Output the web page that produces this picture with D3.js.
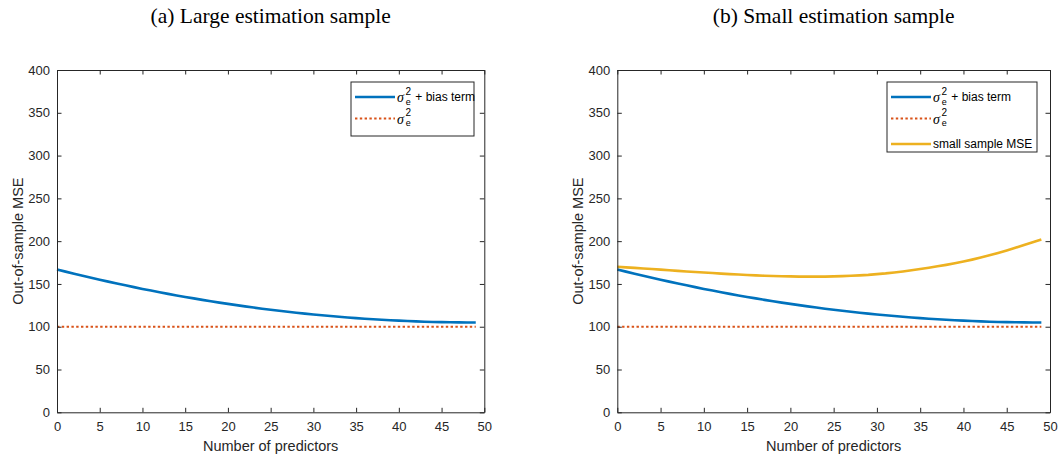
<!DOCTYPE html>
<html>
<head>
<meta charset="utf-8">
<script src="https://cdn.jsdelivr.net/npm/d3@7"></script>
<style>
  body { margin: 0; background: #fff; }
  svg { display: block; }
  .tick text { font-family: "Liberation Sans", Arial, sans-serif; font-size: 13px; fill: #262626; }
  .domain, .tick line { stroke: #262626; stroke-width: 1; }
</style>
</head>
<body>
<svg id="chart" width="1061" height="460"></svg>
<script>
// Number of predictors
const predictors = d3.range(0, 50);

// sigma_e^2 + bias term (same in both panels)
const biasMSE = [166.9,164.4,162.0,159.6,157.2,154.9,152.7,150.5,148.4,146.3,
                 144.2,142.3,140.3,138.4,136.6,134.8,133.1,131.4,129.8,128.2,
                 126.7,125.2,123.8,122.4,121.1,119.9,118.6,117.5,116.4,115.3,
                 114.3,113.4,112.5,111.6,110.8,110.1,109.4,108.7,108.1,107.6,
                 107.1,106.7,106.3,105.9,105.6,105.4,105.2,105.1,105.0,105.0];

// sigma_e^2 (irreducible error)
const noiseVar = predictors.map(() => 100);

// small sample MSE (panel b)
const smallMSE = [170.0,169.4,168.8,168.1,167.4,166.7,166.0,165.3,164.6,164.0,
                  163.3,162.7,162.1,161.5,161.0,160.5,160.0,159.6,159.3,159.0,
                  158.8,158.6,158.5,158.5,158.6,158.8,159.1,159.5,160.0,160.6,
                  161.5,162.3,163.4,164.6,165.9,167.4,169.0,170.6,172.3,174.2,
                  176.2,178.4,180.8,183.4,186.2,189.2,192.3,195.5,198.7,202.0];

const xTicks = [0,5,10,15,20,25,30,35,40,45,50];
const yTicks = [0,50,100,150,200,250,300,350,400];

const colors = { blue: "#0072BD", red: "#D95319", yellow: "#EDB120" };
const titles = ["(a) Large estimation sample", "(b) Small estimation sample"];

const svg = d3.select("#chart");

const panels = [
  { left: 57, right: 484.3, title: titles[0],
    series: [
      { values: biasMSE, color: colors.blue, dash: null, label: "sigma", suffix: " + bias term" },
      { values: noiseVar, color: colors.red, dash: "2.4,2.4", label: "sigma", suffix: "" }
    ],
    legend: { x0: 351, x1: 474, y0: 82, y1: 136, rows: [97, 118.5] } },
  { left: 617.3, right: 1050, title: titles[1],
    series: [
      { values: biasMSE, color: colors.blue, dash: null, label: "sigma", suffix: " + bias term" },
      { values: noiseVar, color: colors.red, dash: "2.4,2.4", label: "sigma", suffix: "" },
      { values: smallMSE, color: colors.yellow, dash: null, label: "text", suffix: "small sample MSE" }
    ],
    legend: { x0: 887, x1: 1037, y0: 82, y1: 152, rows: [97, 118.5, 144] } }
];

const yTop = 70, yBottom = 412.3;

panels.forEach(p => {
  const x = d3.scaleLinear().domain([0, 50]).range([p.left, p.right]);
  const y = d3.scaleLinear().domain([0, 400]).range([yBottom, yTop]);
  const g = svg.append("g");

  // series
  const line = d3.line().x((d, i) => x(predictors[i])).y(d => y(d));
  p.series.forEach(s => {
    g.append("path")
      .datum(s.values)
      .attr("d", line)
      .attr("fill", "none")
      .attr("stroke", s.color)
      .attr("stroke-width", s.dash ? 2.2 : 2.6)
      .attr("stroke-dasharray", s.dash);
  });

  // axes: ticks point inward, box on all sides
  g.append("g").attr("transform", `translate(0,${yBottom})`)
    .call(d3.axisBottom(x).tickValues(xTicks).tickSize(-4.5).tickPadding(9).tickSizeOuter(0));
  g.append("g").attr("transform", `translate(0,${yTop})`)
    .call(d3.axisTop(x).tickValues(xTicks).tickSize(-4.5).tickFormat("").tickSizeOuter(0));
  g.append("g").attr("transform", `translate(${p.left},0)`)
    .call(d3.axisLeft(y).tickValues(yTicks).tickSize(-4.5).tickPadding(7).tickSizeOuter(0));
  g.append("g").attr("transform", `translate(${p.right},0)`)
    .call(d3.axisRight(y).tickValues(yTicks).tickSize(-4.5).tickFormat("").tickSizeOuter(0));
  g.selectAll(".tick text").attr("font-size", null);

  // axis labels
  const cx = (p.left + p.right) / 2;
  g.append("text")
    .attr("x", cx).attr("y", 451)
    .attr("text-anchor", "middle")
    .style("font-family", "Liberation Sans, Arial, sans-serif")
    .style("font-size", "14.5px").style("fill", "#262626")
    .text("Number of predictors");
  g.append("text")
    .attr("transform", `translate(${p.left - 34},${(yTop + yBottom) / 2}) rotate(-90)`)
    .attr("text-anchor", "middle")
    .style("font-family", "Liberation Sans, Arial, sans-serif")
    .style("font-size", "14.5px").style("fill", "#262626")
    .text("Out-of-sample MSE");

  // panel title
  g.append("text")
    .attr("x", cx).attr("y", 23)
    .attr("text-anchor", "middle")
    .style("font-family", "Liberation Serif, 'Times New Roman', serif")
    .style("font-size", "21.5px").style("fill", "#000")
    .text(p.title);

  // legend
  const L = p.legend;
  g.append("rect")
    .attr("x", L.x0).attr("y", L.y0)
    .attr("width", L.x1 - L.x0).attr("height", L.y1 - L.y0)
    .attr("fill", "#fff").attr("stroke", "#262626").attr("stroke-width", 1);
  p.series.forEach((s, i) => {
    const ry = L.rows[i];
    g.append("line")
      .attr("x1", L.x0 + 4).attr("x2", L.x0 + 44)
      .attr("y1", ry).attr("y2", ry)
      .attr("stroke", s.color)
      .attr("stroke-width", s.dash ? 2.2 : 2.6)
      .attr("stroke-dasharray", s.dash);
    const tx = L.x0 + 46;
    const font = "Liberation Sans, Arial, sans-serif";
    if (s.label === "sigma") {
      g.append("text").attr("x", tx).attr("y", ry + 5)
        .style("font-family", "Liberation Serif, serif").style("font-style", "italic")
        .style("font-size", "14px").style("fill", "#000").text("σ");
      g.append("text").attr("x", tx + 8.5).attr("y", ry - 2.5)
        .style("font-family", font).style("font-size", "10px").style("fill", "#000").text("2");
      g.append("text").attr("x", tx + 8.8).attr("y", ry + 7.5)
        .style("font-family", font).style("font-size", "9px").style("fill", "#000").text("e");
      if (s.suffix) {
        g.append("text").attr("x", tx + 15).attr("y", ry + 4)
          .style("font-family", font).style("font-size", "12px").style("fill", "#000")
          .attr("xml:space", "preserve").text(s.suffix);
      }
    } else {
      g.append("text").attr("x", tx).attr("y", ry + 4)
        .style("font-family", font).style("font-size", "12px").style("fill", "#000")
        .text(s.suffix);
    }
  });
});
</script>
</body>
</html>
